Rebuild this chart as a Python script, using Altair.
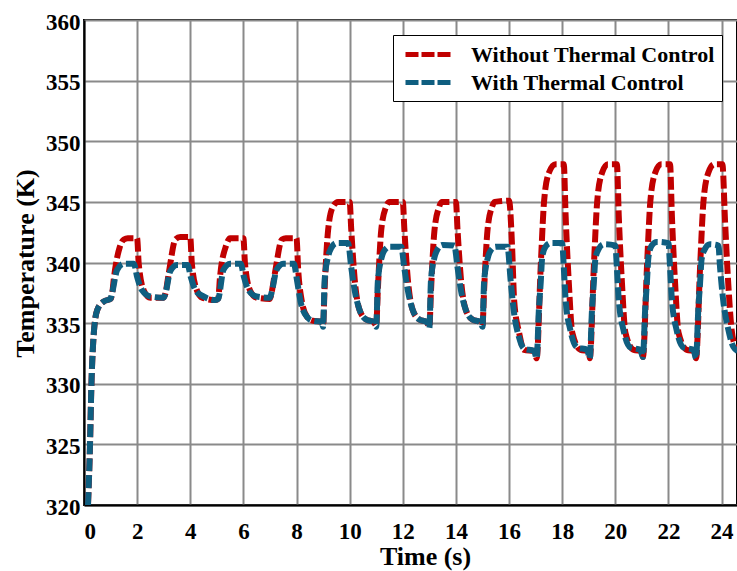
import altair as alt
import pandas as pd

# ---- data ----
series_names = ["Without Thermal Control", "With Thermal Control"]
series_colors = ["#c00000", "#0f5e80"]

t_without = [
    0.15, 0.22, 0.28, 0.37, 0.5, 0.75, 1.0,
    1.06, 1.12, 1.35, 1.5, 1.65, 2.0, 2.06, 2.25, 2.5, 3.0,
    3.06, 3.19, 3.44, 3.62, 4.0, 4.06, 4.25, 4.45, 4.95, 5.05,
    5.12, 5.35, 5.5, 6.0, 6.06, 6.25, 6.5, 7.0,
    7.06, 7.2, 7.45, 7.6, 8.0, 8.06, 8.2, 8.4, 8.6, 8.95, 9.0,
    9.05, 9.19, 9.37, 9.56, 10.0, 10.06, 10.19, 10.37, 10.62, 10.9, 11.0,
    11.06, 11.19, 11.37, 11.5, 12.0, 12.06, 12.19, 12.37, 12.62, 12.9, 13.0,
    13.06, 13.19, 13.37, 13.46, 14.0, 14.06, 14.19, 14.37, 14.62, 14.9, 15.0,
    15.06, 15.19, 15.36, 15.46, 16.0, 16.12, 16.19, 16.38, 16.56, 16.94, 17.04,
    17.19, 17.32, 17.5, 17.75, 18.06, 18.13, 18.25, 18.38, 18.69, 19.0, 19.04,
    19.19, 19.32, 19.5, 19.72, 20.06, 20.13, 20.25, 20.38, 20.69, 21.0, 21.04,
    21.19, 21.32, 21.5, 21.72, 22.06, 22.13, 22.25, 22.38, 22.69, 23.0, 23.04,
    23.19, 23.32, 23.5, 23.72, 24.03, 24.13, 24.25, 24.38, 24.5, 24.6,
]
temp_without = [
    320.0, 324.5, 330.0, 334.2, 336.1, 336.8, 337.0,
    337.4, 338.6, 341.3, 341.9, 342.0, 342.0, 339.9, 337.7, 337.1, 337.1,
    337.4, 339.1, 341.9, 342.1, 342.1, 339.9, 337.7, 337.1, 336.9, 337.0,
    338.8, 341.4, 342.0, 342.0, 339.9, 337.7, 337.1, 337.0,
    337.5, 339.3, 341.9, 342.0, 342.0, 339.5, 336.8, 335.5, 335.2, 335.1, 334.8,
    337.5, 342.7, 344.6, 345.0, 345.0, 342.7, 338.6, 336.1, 335.3, 335.1, 334.8,
    337.7, 342.7, 344.6, 345.0, 345.0, 342.7, 338.6, 336.1, 335.3, 335.1, 334.7,
    337.6, 342.6, 344.6, 345.0, 345.0, 342.7, 338.6, 336.1, 335.3, 335.1, 334.8,
    337.7, 342.7, 344.6, 345.0, 345.1, 341.0, 336.9, 334.2, 332.8, 332.7, 332.1,
    339.6, 345.1, 347.4, 348.1, 348.1, 343.8, 338.3, 334.2, 332.8, 332.7, 332.1,
    339.6, 345.1, 347.4, 348.1, 348.1, 343.8, 338.3, 334.2, 332.8, 332.7, 332.2,
    339.6, 345.1, 347.4, 348.1, 348.1, 343.8, 338.3, 334.2, 332.8, 332.7, 332.1,
    339.6, 345.1, 347.4, 348.1, 348.1, 343.4, 338.3, 334.4, 333.2, 332.9,
]

t_with = [
    0.15, 0.22, 0.28, 0.37, 0.5, 0.75, 1.0,
    1.06, 1.25, 1.5, 1.88, 2.0, 2.19, 2.5, 3.0,
    3.06, 3.25, 3.5, 3.9, 4.02, 4.2, 4.5, 4.95, 5.05,
    5.25, 5.5, 5.9, 6.02, 6.2, 6.5, 7.0,
    7.06, 7.25, 7.5, 7.9, 8.02, 8.15, 8.4, 8.6, 8.95, 9.0,
    9.06, 9.19, 9.31, 9.5, 9.94, 10.06, 10.19, 10.37, 10.62, 10.9, 11.0,
    11.06, 11.19, 11.31, 11.5, 11.94, 12.06, 12.19, 12.37, 12.62, 12.9, 13.0,
    13.06, 13.19, 13.31, 13.5, 13.94, 14.06, 14.19, 14.37, 14.62, 14.9, 15.0,
    15.06, 15.19, 15.31, 15.5, 15.94, 16.06, 16.19, 16.38, 16.56, 16.94, 17.04,
    17.12, 17.19, 17.25, 17.37, 17.56, 18.0, 18.06, 18.13, 18.31, 18.56, 18.94, 19.04,
    19.12, 19.19, 19.25, 19.37, 19.56, 20.0, 20.06, 20.13, 20.31, 20.56, 20.94, 21.04,
    21.12, 21.19, 21.25, 21.37, 21.56, 22.0, 22.06, 22.13, 22.31, 22.56, 22.94, 23.04,
    23.12, 23.19, 23.25, 23.37, 23.56, 23.88, 23.94, 24.06, 24.25, 24.44, 24.6,
]
temp_with = [
    320.0, 324.5, 330.0, 334.2, 336.1, 336.8, 337.0,
    337.5, 339.4, 339.9, 339.9, 338.8, 337.7, 337.2, 337.1,
    337.4, 339.3, 339.8, 339.8, 338.8, 337.7, 337.2, 336.9, 337.0,
    339.4, 339.9, 339.9, 338.8, 337.7, 337.2, 337.1,
    337.5, 339.4, 339.9, 339.9, 338.5, 336.8, 335.5, 335.2, 335.1, 334.7,
    338.6, 340.5, 341.2, 341.6, 341.6, 339.6, 337.7, 336.1, 335.3, 335.1, 334.7,
    338.4, 340.3, 341.0, 341.3, 341.3, 339.5, 337.7, 336.1, 335.3, 335.1, 334.6,
    338.5, 340.4, 341.1, 341.45, 341.4, 339.6, 337.7, 336.1, 335.3, 335.1, 334.7,
    338.4, 340.3, 341.0, 341.3, 341.3, 338.5, 335.8, 333.8, 332.9, 332.7, 332.1,
    336.0, 338.3, 340.5, 341.3, 341.6, 341.6, 339.6, 336.9, 334.4, 333.0, 332.8, 332.1,
    336.0, 338.3, 340.3, 341.1, 341.5, 341.4, 339.5, 336.9, 334.4, 333.0, 332.8, 332.2,
    336.0, 338.4, 340.5, 341.4, 341.7, 341.6, 339.6, 336.9, 334.4, 333.0, 332.8, 332.1,
    336.0, 338.3, 340.3, 341.1, 341.5, 341.4, 339.65, 336.9, 334.5, 333.05, 332.7,
]

x_ticks = [0, 2, 4, 6, 8, 10, 12, 14, 16, 18, 20, 22, 24]
y_ticks = [320, 325, 330, 335, 340, 345, 350, 355, 360]

df = pd.DataFrame({
    "t": t_without + t_with,
    "T": temp_without + temp_with,
    "series": [series_names[0]] * len(t_without) + [series_names[1]] * len(t_with),
})

FONT = "Liberation Serif"

color = alt.Color(
    "series:N",
    scale=alt.Scale(domain=series_names, range=series_colors),
    legend=alt.Legend(
        title=None,
        orient="none",
        legendX=309,
        legendY=15,
        symbolType="M-0.7,0H3.9",
        symbolSize=400,
        symbolStrokeWidth=5,
        symbolDash=[13, 3],
        labelFont=FONT,
        labelFontSize=22,
        labelFontWeight="bold",
        labelColor="black",
        labelOffset=46,
        labelLimit=500,
        padding=7,
        rowPadding=4,
        strokeColor="black",
        fillColor="white",
    ),
)

base = alt.Chart(df).mark_line(
    strokeWidth=6, strokeDash=[13, 4], strokeCap="butt",
    interpolate="monotone", clip=True,
).encode(
    x=alt.X("t:Q",
            scale=alt.Scale(domain=[0, 24.58], nice=False, zero=False),
            axis=alt.Axis(values=x_ticks, title="Time (s)", format="d",
                          titleX=341, titleY=59, titleBaseline="alphabetic",
                          labelPadding=15)),
    y=alt.Y("T:Q",
            scale=alt.Scale(domain=[320, 360], nice=False, zero=False),
            axis=alt.Axis(values=y_ticks, title="Temperature (K)", format="d",
                          titleX=-51, titleY=243, titleAngle=270,
                          titleAlign="center", titleBaseline="alphabetic",
                          labelPadding=4, labelOffset=2)),
    color=color,
)

red = base.transform_filter(alt.datum.series == series_names[0])
blue = base.transform_filter(alt.datum.series == series_names[1])

chart = alt.layer(red, blue).properties(
    width=653, height=485,
    padding={"left": 84, "top": 20, "right": 0, "bottom": 66},
    autosize=alt.AutoSizeParams(type="none"),
    background="white",
).configure_view(
    stroke="black", strokeWidth=2,
).configure_axis(
    domainColor="black", domainWidth=2,
    grid=True, gridColor="#8a8a8a", gridWidth=2, gridOpacity=1,
    ticks=False, tickSize=0,
    labelFont=FONT, labelFontSize=23, labelFontWeight="bold", labelColor="black",
    titleFont=FONT, titleFontSize=26, titleFontWeight="bold", titleColor="black",
)

chart.save("out.html", embed_options={"renderer": "svg", "actions": False})
